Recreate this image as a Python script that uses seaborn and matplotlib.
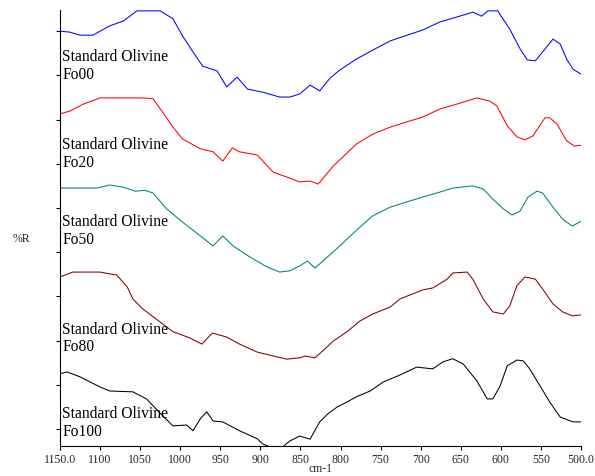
import seaborn as sns
import pandas as pd
import matplotlib
matplotlib.use("Agg")
from matplotlib import pyplot as plt

# wavenumber (cm-1) / %R pairs, one spectrum per sample
fo00_wn = [1150, 1138, 1125, 1109, 1088, 1071, 1054, 1025, 1009, 997, 984, 972, 954, 942, 929, 916,
           897, 876, 863, 851, 838, 826, 813, 801, 780, 760, 738, 717, 697, 676, 655, 635, 624, 616,
           604, 589, 576, 567, 557, 548, 535, 526, 518, 510, 500]
fo00_r = [90.0, 89.8, 89.1, 89.1, 91.2, 92.3, 94.6, 94.6, 92.8, 88.9, 85.3, 82.1, 81.0, 77.4, 79.6, 76.9,
          76.2, 75.1, 75.1, 75.8, 77.8, 76.5, 79.4, 81.2, 83.7, 85.7, 87.8, 89.1, 90.3, 92.1, 93.2, 94.3, 93.4, 94.6,
          94.6, 90.5, 86.0, 83.5, 83.3, 85.3, 88.2, 87.1, 83.7, 81.4, 80.3]

fo20_wn = [1150, 1138, 1121, 1100, 1071, 1047, 1034, 1022, 1009, 997, 975, 959, 947, 935, 926, 904,
           884, 867, 851, 838, 828, 809, 780, 760, 738, 717, 697, 676, 655, 630, 614, 605, 592, 580,
           570, 560, 545, 539, 530, 518, 508, 500]
fo20_r = [71.3, 71.9, 73.5, 74.9, 74.9, 74.9, 74.7, 71.7, 68.3, 65.6, 63.4, 62.7, 60.6, 63.6, 62.7, 62.0,
          58.1, 57.0, 55.9, 56.1, 55.4, 59.5, 64.5, 66.7, 68.3, 69.5, 70.6, 72.4, 73.5, 74.9, 74.2, 73.1, 68.6, 66.1,
          65.4, 66.3, 70.4, 70.4, 69.0, 65.2, 64.0, 64.2]

fo50_wn = [1150, 1104, 1088, 1071, 1056, 1044, 1034, 1017, 997, 975, 959, 947, 934, 913, 892, 876,
           863, 851, 841, 832, 822, 801, 780, 760, 738, 717, 697, 676, 660, 635, 622, 610, 597, 586,
           576, 566, 555, 548, 535, 523, 511, 500]
fo50_r = [54.5, 54.5, 55.2, 54.7, 53.8, 54.0, 53.4, 49.8, 46.8, 43.7, 41.4, 43.7, 41.4, 38.9, 36.7, 35.5,
          35.8, 36.9, 38.0, 36.4, 38.0, 41.4, 45.0, 48.2, 50.2, 51.4, 52.5, 53.6, 54.5, 55.0, 54.3, 52.0, 49.8, 48.4,
          49.3, 52.5, 53.8, 53.4, 50.2, 47.5, 45.9, 47.0]

fo80_wn = [1150, 1134, 1100, 1079, 1066, 1059, 1047, 1025, 1009, 988, 973, 960, 942, 926, 904, 879,
           867, 851, 844, 832, 822, 809, 792, 776, 760, 738, 726, 697, 685, 667, 660, 642, 635, 622,
           610, 597, 589, 580, 570, 557, 548, 535, 523, 511, 500]
fo80_r = [34.4, 35.5, 35.5, 34.8, 32.1, 29.4, 27.2, 24.2, 22.0, 20.6, 19.2, 21.7, 20.8, 19.2, 17.4, 16.3,
          15.8, 16.1, 16.5, 16.1, 17.7, 19.9, 22.0, 24.4, 26.0, 27.6, 29.4, 31.5, 31.9, 33.9, 35.3, 35.5, 33.9, 29.4,
          26.5, 26.0, 27.8, 32.4, 34.4, 33.9, 31.7, 28.3, 26.5, 25.6, 25.8]

fo100_wn = [1150, 1141, 1125, 1100, 1088, 1059, 1042, 1022, 1009, 992, 984, 975, 967, 959, 947, 926,
            904, 897, 882, 872, 863, 851, 838, 826, 816, 804, 792, 780, 763, 747, 726, 705, 685, 672,
            660, 647, 630, 617, 610, 601, 592, 580, 572, 564, 551, 539, 526, 510, 500]
fo100_r = [12.5, 12.9, 11.8, 9.5, 8.6, 8.4, 6.8, 3.0, 0.7, 0.9, -0.4, 2.3, 3.9, 1.8, 1.6, -0.4,
           -2.2, -3.4, -4.5, -4.0, -2.7, -1.6, -2.3, 1.6, 3.4, 5.0, 6.1, 7.3, 8.6, 10.6, 12.2, 14.0, 13.6, 15.2,
           15.9, 14.7, 10.9, 6.8, 6.8, 9.7, 14.3, 15.6, 15.4, 13.6, 9.7, 6.1, 2.7, 1.6, 1.6]

samples = ['Fo00', 'Fo20', 'Fo50', 'Fo80', 'Fo100']
wn_all = [fo00_wn, fo20_wn, fo50_wn, fo80_wn, fo100_wn]
r_all = [fo00_r, fo20_r, fo50_r, fo80_r, fo100_r]

rows = []
for name, wn, r in zip(samples, wn_all, r_all):
    for a, b in zip(wn, r):
        rows.append({'Sample': name, 'cm-1': a, '%R': b})
df = pd.DataFrame(rows)

colors = {'Fo00': '#0000ff', 'Fo20': '#ff0000', 'Fo50': '#008080', 'Fo80': '#800000', 'Fo100': '#000000'}
label_y = [82.3, 62.4, 45.0, 20.7, 1.5]

sns.set_style("ticks")
plt.rcParams['font.family'] = ['Liberation Serif', 'DejaVu Serif']

fig = plt.figure(figsize=(5.95, 4.77), dpi=100)
ax = fig.add_axes([0.1008, 0.0629, 0.8757, 0.9141])

sns.lineplot(data=df, x='cm-1', y='%R', hue='Sample', palette=colors, ax=ax,
             linewidth=0.75, legend=False)
for line in ax.lines:
    line.set_solid_joinstyle('round')

ax.set_xlim(1150, 500)
ax.set_ylim(-3.85, 94.8)
ax.set_xticks([1150, 1100, 1050, 1000, 950, 900, 850, 800, 750, 700, 650, 600, 550, 500])
ax.set_xticklabels(['1150.0', '1100', '1050', '1000', '950', '900', '850', '800', '750',
                    '700', '650', '600', '550', '500.0'], fontsize=8.5)
ax.set_yticks(range(0, 100, 10))
ax.set_yticklabels([])
ax.tick_params(axis='both', length=3, width=0.8, color='black', pad=2)
sns.despine(ax=ax)
for s in ['left', 'bottom']:
    ax.spines[s].set_color('black')
    ax.spines[s].set_linewidth(0.8)

ax.set_xlabel('cm-1', fontsize=8.5)
ax.xaxis.set_label_coords(0.5, -0.05)
ax.xaxis.label.set_va('center')
ax.set_ylabel('%R', fontsize=8.5, rotation=0, va='center', ha='center')
ax.yaxis.set_label_coords(-0.074, 0.478)

for name, yy in zip(samples, label_y):
    ax.text(1147, yy, 'Standard Olivine\n' + name, fontsize=11.2, va='center', ha='left',
            linespacing=1.15, color='black')

fig.savefig('out.png', dpi=100)
